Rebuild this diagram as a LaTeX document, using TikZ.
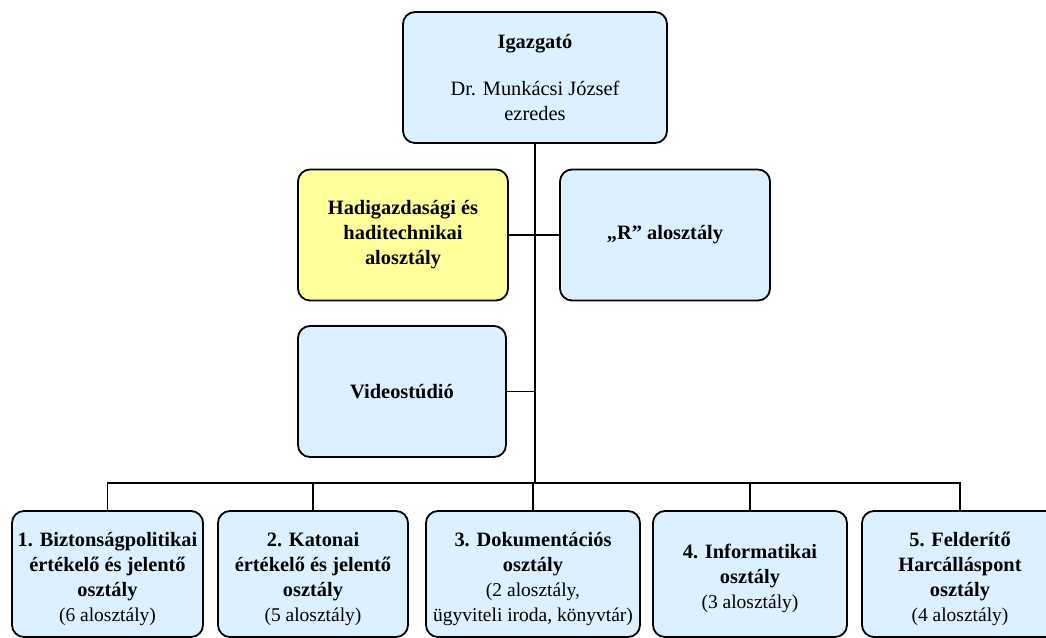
\documentclass[tikz,border=0pt]{standalone}
\usepackage{fontspec}
\setmainfont{Liberation Serif}
\definecolor{boxblue}{RGB}{220,240,255}
\definecolor{boxyellow}{RGB}{255,255,155}
\newcommand{\topgap}{\rule{0pt}{24pt}}
\begin{document}
\begin{tikzpicture}[x=1pt,y=-1pt,
  unit/.style={draw=black, line width=1.8pt, rounded corners=12pt, fill=boxblue,
    align=center, inner sep=0pt, font=\fontsize{20.4}{25}\selectfont},
  conn/.style={draw=black, line width=1.8pt}]
\useasboundingbox (0,0) rectangle (1046,637);
\clip (0,0) rectangle (1046,637);
\fill[white] (0,0) rectangle (1046,637);

\node[unit, minimum width=264pt, minimum height=131pt] (dir) at (535,77.5)
  {\textbf{Igazgató}\\[22pt]Dr. Munkácsi József\\ezredes};
\node[unit, fill=boxyellow, minimum width=210pt, minimum height=131pt] (hadi) at (403,235)
  {\textbf{Hadigazdasági és}\\\textbf{haditechnikai}\\\textbf{alosztály}};
\node[unit, minimum width=210pt, minimum height=131pt] (r) at (665,235)
  {\textbf{„R” alosztály}};
\node[unit, minimum width=208pt, minimum height=131pt] (video) at (402,391.5)
  {\textbf{Videostúdió}};

\node[unit, minimum width=191pt, minimum height=126pt] (b1) at (107.5,574)
  {\topgap\textbf{1. Biztonságpolitikai}\\\textbf{értékelő és jelentő}\\\textbf{osztály}\\{\fontsize{19.5}{23}\selectfont (6 alosztály)}};
\node[unit, minimum width=190pt, minimum height=126pt] (b2) at (313,574)
  {\topgap\textbf{2. Katonai}\\\textbf{értékelő és jelentő}\\\textbf{osztály}\\{\fontsize{19.5}{23}\selectfont (5 alosztály)}};
\node[unit, minimum width=214pt, minimum height=126pt] (b3) at (533,574)
  {\topgap\textbf{3. Dokumentációs}\\\textbf{osztály}\\{\fontsize{19.5}{23}\selectfont (2 alosztály,}\\{\fontsize{19.5}{23}\selectfont ügyviteli iroda, könyvtár)}};
\node[unit, minimum width=194pt, minimum height=126pt] (b4) at (750,574)
  {\topgap\textbf{4. Informatikai}\\\textbf{osztály}\\{\fontsize{19.5}{23}\selectfont (3 alosztály)}};
\node[unit, minimum width=196pt, minimum height=126pt] (b5) at (960,574)
  {\topgap\textbf{5. Felderítő}\\\textbf{Harcálláspont}\\\textbf{osztály}\\{\fontsize{19.5}{23}\selectfont (4 alosztály)}};

\coordinate (bus) at (0,483);
\draw[conn] (dir.south) -- (dir.south |- bus);
\draw[conn] (hadi.east) -- (r.west);
\draw[conn] (video.east) -- (video.east -| dir.south);
\draw[conn, line cap=rect] (b1.north |- bus) -- (b5.north |- bus);
\foreach \b in {b1,b2,b3,b4,b5} {
  \draw[conn] (\b.north) -- (\b.north |- bus);
}
\end{tikzpicture}
\end{document}
